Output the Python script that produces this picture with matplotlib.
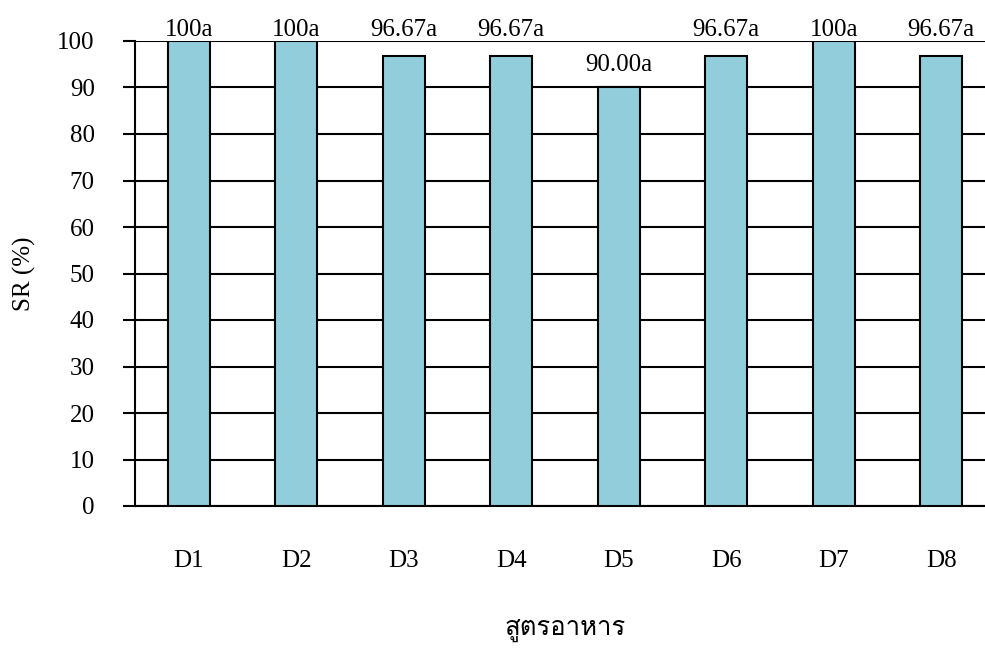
import matplotlib
matplotlib.use("Agg")
import matplotlib.pyplot as plt
from matplotlib import font_manager
from matplotlib.ft2font import FT2Font

diets = ["D1", "D2", "D3", "D4", "D5", "D6", "D7", "D8"]
survival = [100, 100, 96.67, 96.67, 90.00, 96.67, 100, 96.67]
bar_labels = ["100a", "100a", "96.67a", "96.67a", "90.00a", "96.67a", "100a", "96.67a"]
y_ticks = [0, 10, 20, 30, 40, 50, 60, 70, 80, 90, 100]
x_title = "สูตรอาหาร"
y_title = "SR (%)"


def thai_family():
    """Pick an installed family that covers Thai script."""
    seen = set()
    for f in font_manager.fontManager.ttflist:
        if f.name in seen:
            continue
        seen.add(f.name)
        try:
            cmap = FT2Font(f.fname).get_charmap()
        except Exception:
            continue
        if all(ord(c) in cmap for c in x_title):
            return f.name
    return "DejaVu Sans"


serif = "Liberation Serif"
thai = thai_family()
fs = 18

fig = plt.figure(figsize=(9.85, 6.52), dpi=100)
ax = fig.add_axes([135 / 985, 1 - 506 / 652, (995 - 135) / 985, (506 - 41) / 652])

x = list(range(len(diets)))
ax.bar(x, survival, width=0.39, color="#92CDDC", edgecolor="black",
       linewidth=1.5, zorder=3)

# labels of bars close to the top sit above the 100 gridline
ymax = y_ticks[-1]
for xi, v, lab in zip(x, survival, bar_labels):
    anchor = ymax if v > ymax - 5 else v
    off = 0 if v > ymax - 5 else 8
    ax.annotate(lab, (xi, anchor), xytext=(0, off), textcoords="offset points",
                ha="center", va="bottom", fontsize=fs, family=serif,
                zorder=4, annotation_clip=False)

ax.set_xlim(-0.5, len(diets) - 0.5)
ax.set_ylim(0, ymax)
ax.set_yticks(y_ticks)
ax.yaxis.grid(True, color="black", linewidth=1.5, zorder=0)
ax.set_axisbelow(True)

ax.set_xticks(x)
ax.set_xticklabels(diets, family=serif, fontsize=fs)
ax.tick_params(axis="x", length=0, pad=32)
ax.tick_params(axis="y", length=9, width=1.5, direction="out", pad=20,
               labelsize=fs)
for t in ax.get_yticklabels():
    t.set_family(serif)

for s in ("top", "right"):
    ax.spines[s].set_visible(False)
ax.spines["left"].set_linewidth(1.5)
ax.spines["bottom"].set_linewidth(1.5)

ax.set_ylabel(y_title, family=serif, fontsize=fs, labelpad=15)
ax.set_xlabel(x_title, family=[thai, serif], fontsize=18.5, labelpad=33)

fig.savefig("out.png", dpi=100)
